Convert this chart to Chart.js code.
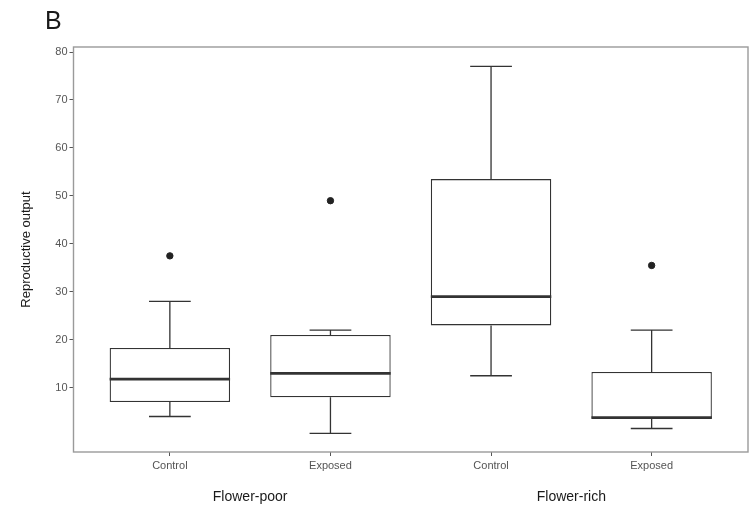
<!DOCTYPE html>
<html lang="en">
  <head>
    <meta charset="UTF-8" />
    <title>Reproductive output</title>
    <script src="https://cdn.jsdelivr.net/npm/chart.js"></script>
    <style>
      body { margin: 0; background: #fff; }
      #wrap { width: 753px; height: 515px; }
    </style>
  </head>
  <body>
    <div id="wrap"><canvas id="boxes" width="753" height="515"></canvas></div>
    <script>
      const xLabels = ["Control", "Exposed", "Control", "Exposed"];
      const groupLabels = ["Flower-poor", "Flower-rich"];
      const whiskerLow = [4, 0.5, 12.5, 1.5];
      const q1 = [7, 8, 23, 3.5];
      const medians = [11.8, 13, 29, 3.8];
      const q3 = [18.3, 21, 53.5, 13.3];
      const whiskerHigh = [28, 22, 77, 22];
      const outliers = [[37.5], [49], [], [35.5]];
      const yTicks = [10, 20, 30, 40, 50, 60, 70, 80];

      const INK = "#333333";
      const FONT = "'Liberation Sans', Arial, sans-serif";

      // whiskers, caps and medians, drawn from the arrays above via the scales
      const boxExtras = {
        id: "boxExtras",
        afterDatasetsDraw(chart) {
          const { ctx, scales: { x, y } } = chart;
          ctx.save();
          ctx.strokeStyle = INK;
          xLabels.forEach((_, i) => {
            const pos = i + 1;
            const cx = x.getPixelForValue(pos);
            const capL = x.getPixelForValue(pos - 0.13);
            const capR = x.getPixelForValue(pos + 0.13);
            ctx.lineWidth = 1.3;
            ctx.beginPath();
            ctx.moveTo(cx, y.getPixelForValue(q3[i]));
            ctx.lineTo(cx, y.getPixelForValue(whiskerHigh[i]));
            ctx.moveTo(cx, y.getPixelForValue(q1[i]));
            ctx.lineTo(cx, y.getPixelForValue(whiskerLow[i]));
            ctx.moveTo(capL, y.getPixelForValue(whiskerHigh[i]));
            ctx.lineTo(capR, y.getPixelForValue(whiskerHigh[i]));
            ctx.moveTo(capL, y.getPixelForValue(whiskerLow[i]));
            ctx.lineTo(capR, y.getPixelForValue(whiskerLow[i]));
            ctx.stroke();
            ctx.lineWidth = 2.6;
            ctx.beginPath();
            ctx.moveTo(x.getPixelForValue(pos - 0.375), y.getPixelForValue(medians[i]));
            ctx.lineTo(x.getPixelForValue(pos + 0.375), y.getPixelForValue(medians[i]));
            ctx.stroke();
          });
          ctx.restore();
        },
        afterDraw(chart) {
          const { ctx, chartArea: a, scales: { x } } = chart;
          ctx.save();
          ctx.strokeStyle = "#9a9a9a";
          ctx.lineWidth = 1.4;
          ctx.strokeRect(a.left, a.top, a.right - a.left, a.bottom - a.top);
          ctx.fillStyle = "#1a1a1a";
          ctx.textAlign = "center";
          ctx.textBaseline = "middle";
          ctx.font = "14px " + FONT;
          ctx.fillText(groupLabels[0], x.getPixelForValue(1.5), 497);
          ctx.fillText(groupLabels[1], x.getPixelForValue(3.5), 497);
          ctx.font = "25px " + FONT;
          ctx.textAlign = "left";
          ctx.fillText("B", 45, 22);
          ctx.restore();
        },
      };

      const outlierPoints = [];
      outliers.forEach((vals, i) => vals.forEach((v) => outlierPoints.push({ x: i + 1, y: v })));

      new Chart(document.getElementById("boxes"), {
        type: "bar",
        data: {
          datasets: [
            {
              data: xLabels.map((_, i) => ({ x: i + 1, y: [q1[i], q3[i]] })),
              backgroundColor: "#ffffff",
              borderColor: INK,
              borderWidth: 1.3,
              borderSkipped: false,
              categoryPercentage: 1,
              barPercentage: 0.75,
            },
            {
              type: "scatter",
              data: outlierPoints,
              backgroundColor: "#222222",
              borderColor: "#222222",
              pointRadius: 3.2,
            },
          ],
        },
        options: {
          responsive: false,
          animation: false,
          layout: { padding: { left: 0, right: 2, top: 47, bottom: 0 } },
          plugins: { legend: { display: false }, tooltip: { enabled: false } },
          scales: {
            x: {
              type: "linear",
              min: 0.4,
              max: 4.6,
              offset: false,
              afterBuildTicks: (s) => { s.ticks = xLabels.map((_, i) => ({ value: i + 1 })); },
              afterFit: (s) => { s.height = 63; },
              grid: { drawOnChartArea: false, offset: false, tickLength: 4, color: "#555555" },
              border: { display: false },
              ticks: {
                callback: (v) => xLabels[v - 1],
                color: "#555555",
                padding: 3,
                maxRotation: 0,
                font: { family: FONT, size: 11 },
              },
            },
            y: {
              min: -3.4,
              max: 81.05,
              afterBuildTicks: (s) => { s.ticks = yTicks.map((v) => ({ value: v })); },
              afterFit: (s) => { s.width = 73.5; },
              grid: { drawOnChartArea: false, tickLength: 4, color: "#555555" },
              border: { display: false },
              ticks: { color: "#555555", padding: 2, font: { family: FONT, size: 11 } },
              title: {
                display: true,
                text: "Reproductive output",
                color: "#1a1a1a",
                padding: { top: 19, bottom: 0 },
                font: { family: FONT, size: 13 },
              },
            },
          },
        },
        plugins: [boxExtras],
      });
    </script>
  </body>
</html>
